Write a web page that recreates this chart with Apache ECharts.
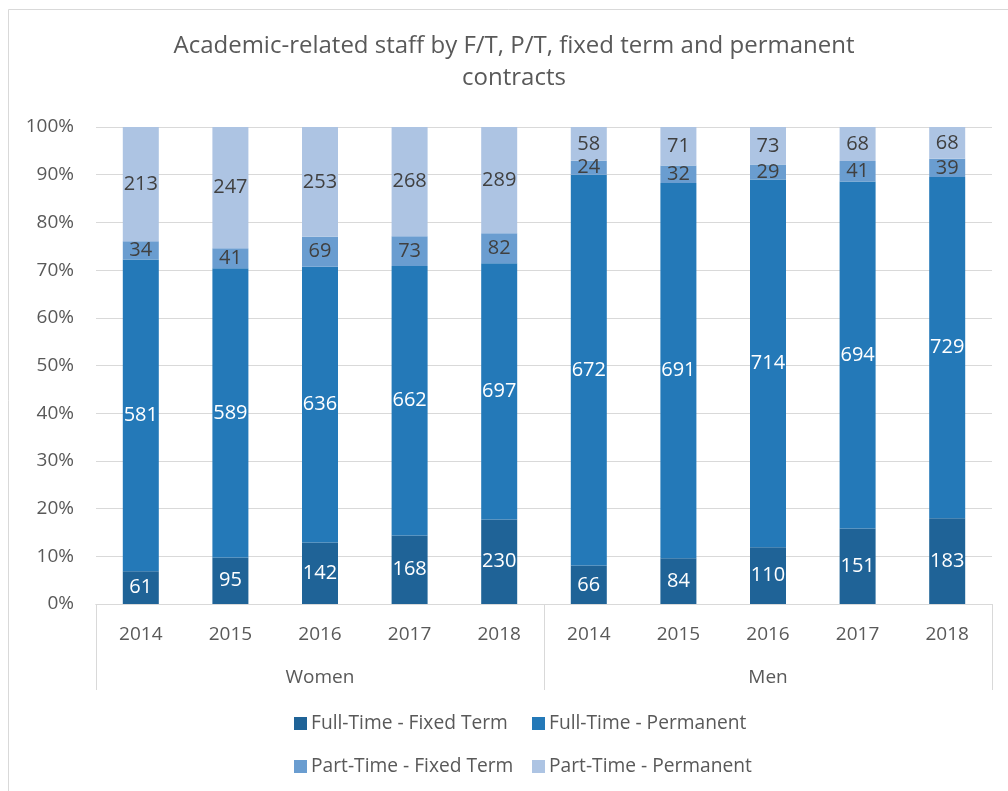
<!DOCTYPE html>
<html>
<head>
<meta charset="utf-8">
<script src="https://cdn.jsdelivr.net/npm/echarts@6/dist/echarts.min.js"></script>
<style>html,body{margin:0;padding:0;background:#fff;}#c{width:1008px;height:791px;}</style>
</head>
<body>
<div id="c"></div>
<script>
const years = ['2014', '2015', '2016', '2017', '2018'];
const groups = ['Women', 'Men'];
const seriesNames = ['Full-Time - Fixed Term', 'Full-Time - Permanent', 'Part-Time - Fixed Term', 'Part-Time - Permanent'];
const ftFixed = [61, 95, 142, 168, 230, 66, 84, 110, 151, 183];
const ftPerm = [581, 589, 636, 662, 697, 672, 691, 714, 694, 729];
const ptFixed = [34, 41, 69, 73, 82, 24, 32, 29, 41, 39];
const ptPerm = [213, 247, 253, 268, 289, 58, 71, 73, 68, 68];
const yTicks = [0, 10, 20, 30, 40, 50, 60, 70, 80, 90, 100];

const raw = [ftFixed, ftPerm, ptFixed, ptPerm];
const colors = ['#1f6397', '#2479b8', '#6a9dd0', '#adc4e3'];
const labelColors = ['#ffffff', '#ffffff', '#404040', '#404040'];
const cats = [];
groups.forEach(() => years.forEach(y => cats.push(y)));
const totals = ftFixed.map((_, i) => raw.reduce((s, a) => s + a[i], 0));
const FONT = '"Open Sans", "Noto Sans", sans-serif';

const series = raw.map((arr, si) => ({
  name: seriesNames[si],
  type: 'bar',
  stack: 'all',
  barWidth: 36,
  xAxisIndex: 0,
  data: arr.map((v, i) => v / totals[i] * 100),
  itemStyle: { color: colors[si] },
  label: {
    show: true,
    position: 'inside',
    color: labelColors[si],
    fontFamily: FONT,
    fontSize: 20,
    formatter: p => String(raw[si][p.dataIndex])
  }
}));

function legendAt(name, left, top) {
  return {
    data: [name], left: left, top: top, itemWidth: 13, itemHeight: 13, itemGap: 6,
    icon: 'rect', selectedMode: false,
    textStyle: { color: '#595959', fontSize: 19.2, fontFamily: FONT, padding: [0, 0, 0, -1] }
  };
}

const chart = echarts.init(document.getElementById('c'), null, { renderer: 'canvas' });
chart.setOption({
  animation: false,
  backgroundColor: '#ffffff',
  grid: { left: 96, right: 16, top: 127, bottom: 187, containLabel: false },
  graphic: [
    { type: 'rect', shape: { x: 8.5, y: 9.5, width: 1010, height: 800 }, style: { fill: 'none', stroke: '#d9d9d9', lineWidth: 1 }, silent: true, z: -10 },
    { type: 'text', x: 514, y: 46, style: { text: 'Academic-related staff by F/T, P/T, fixed term and permanent', fontSize: 24, fontFamily: FONT, fill: '#595959', align: 'center', verticalAlign: 'middle' } },
    { type: 'text', x: 514, y: 78, style: { text: 'contracts', fontSize: 24, fontFamily: FONT, fill: '#595959', align: 'center', verticalAlign: 'middle' } }
  ],
  legend: [
    legendAt(seriesNames[0], 289, 709),
    legendAt(seriesNames[1], 527, 709),
    legendAt(seriesNames[2], 289, 752),
    legendAt(seriesNames[3], 527, 752)
  ],
  xAxis: [
    {
      type: 'category', data: cats, position: 'bottom',
      axisLine: { show: true, lineStyle: { color: '#d9d9d9' } },
      axisTick: { show: false },
      axisLabel: { color: '#595959', fontSize: 19, fontFamily: FONT, margin: 21, interval: 0 }
    },
    {
      type: 'category', data: groups, position: 'bottom', boundaryGap: true,
      axisLine: { show: true, lineStyle: { color: '#d9d9d9' } },
      axisTick: { show: true, length: 86, alignWithLabel: false, lineStyle: { color: '#d9d9d9' } },
      axisLabel: { color: '#595959', fontSize: 19, fontFamily: FONT, margin: 64, interval: 0 }
    }
  ],
  yAxis: {
    type: 'value', min: yTicks[0], max: yTicks[yTicks.length - 1], interval: yTicks[1] - yTicks[0],
    axisLine: { show: false }, axisTick: { show: false },
    splitLine: { lineStyle: { color: '#d9d9d9' } },
    axisLabel: { color: '#595959', fontSize: 19, fontFamily: FONT, margin: 22, formatter: '{value}%' }
  },
  series: series
});
</script>
</body>
</html>
